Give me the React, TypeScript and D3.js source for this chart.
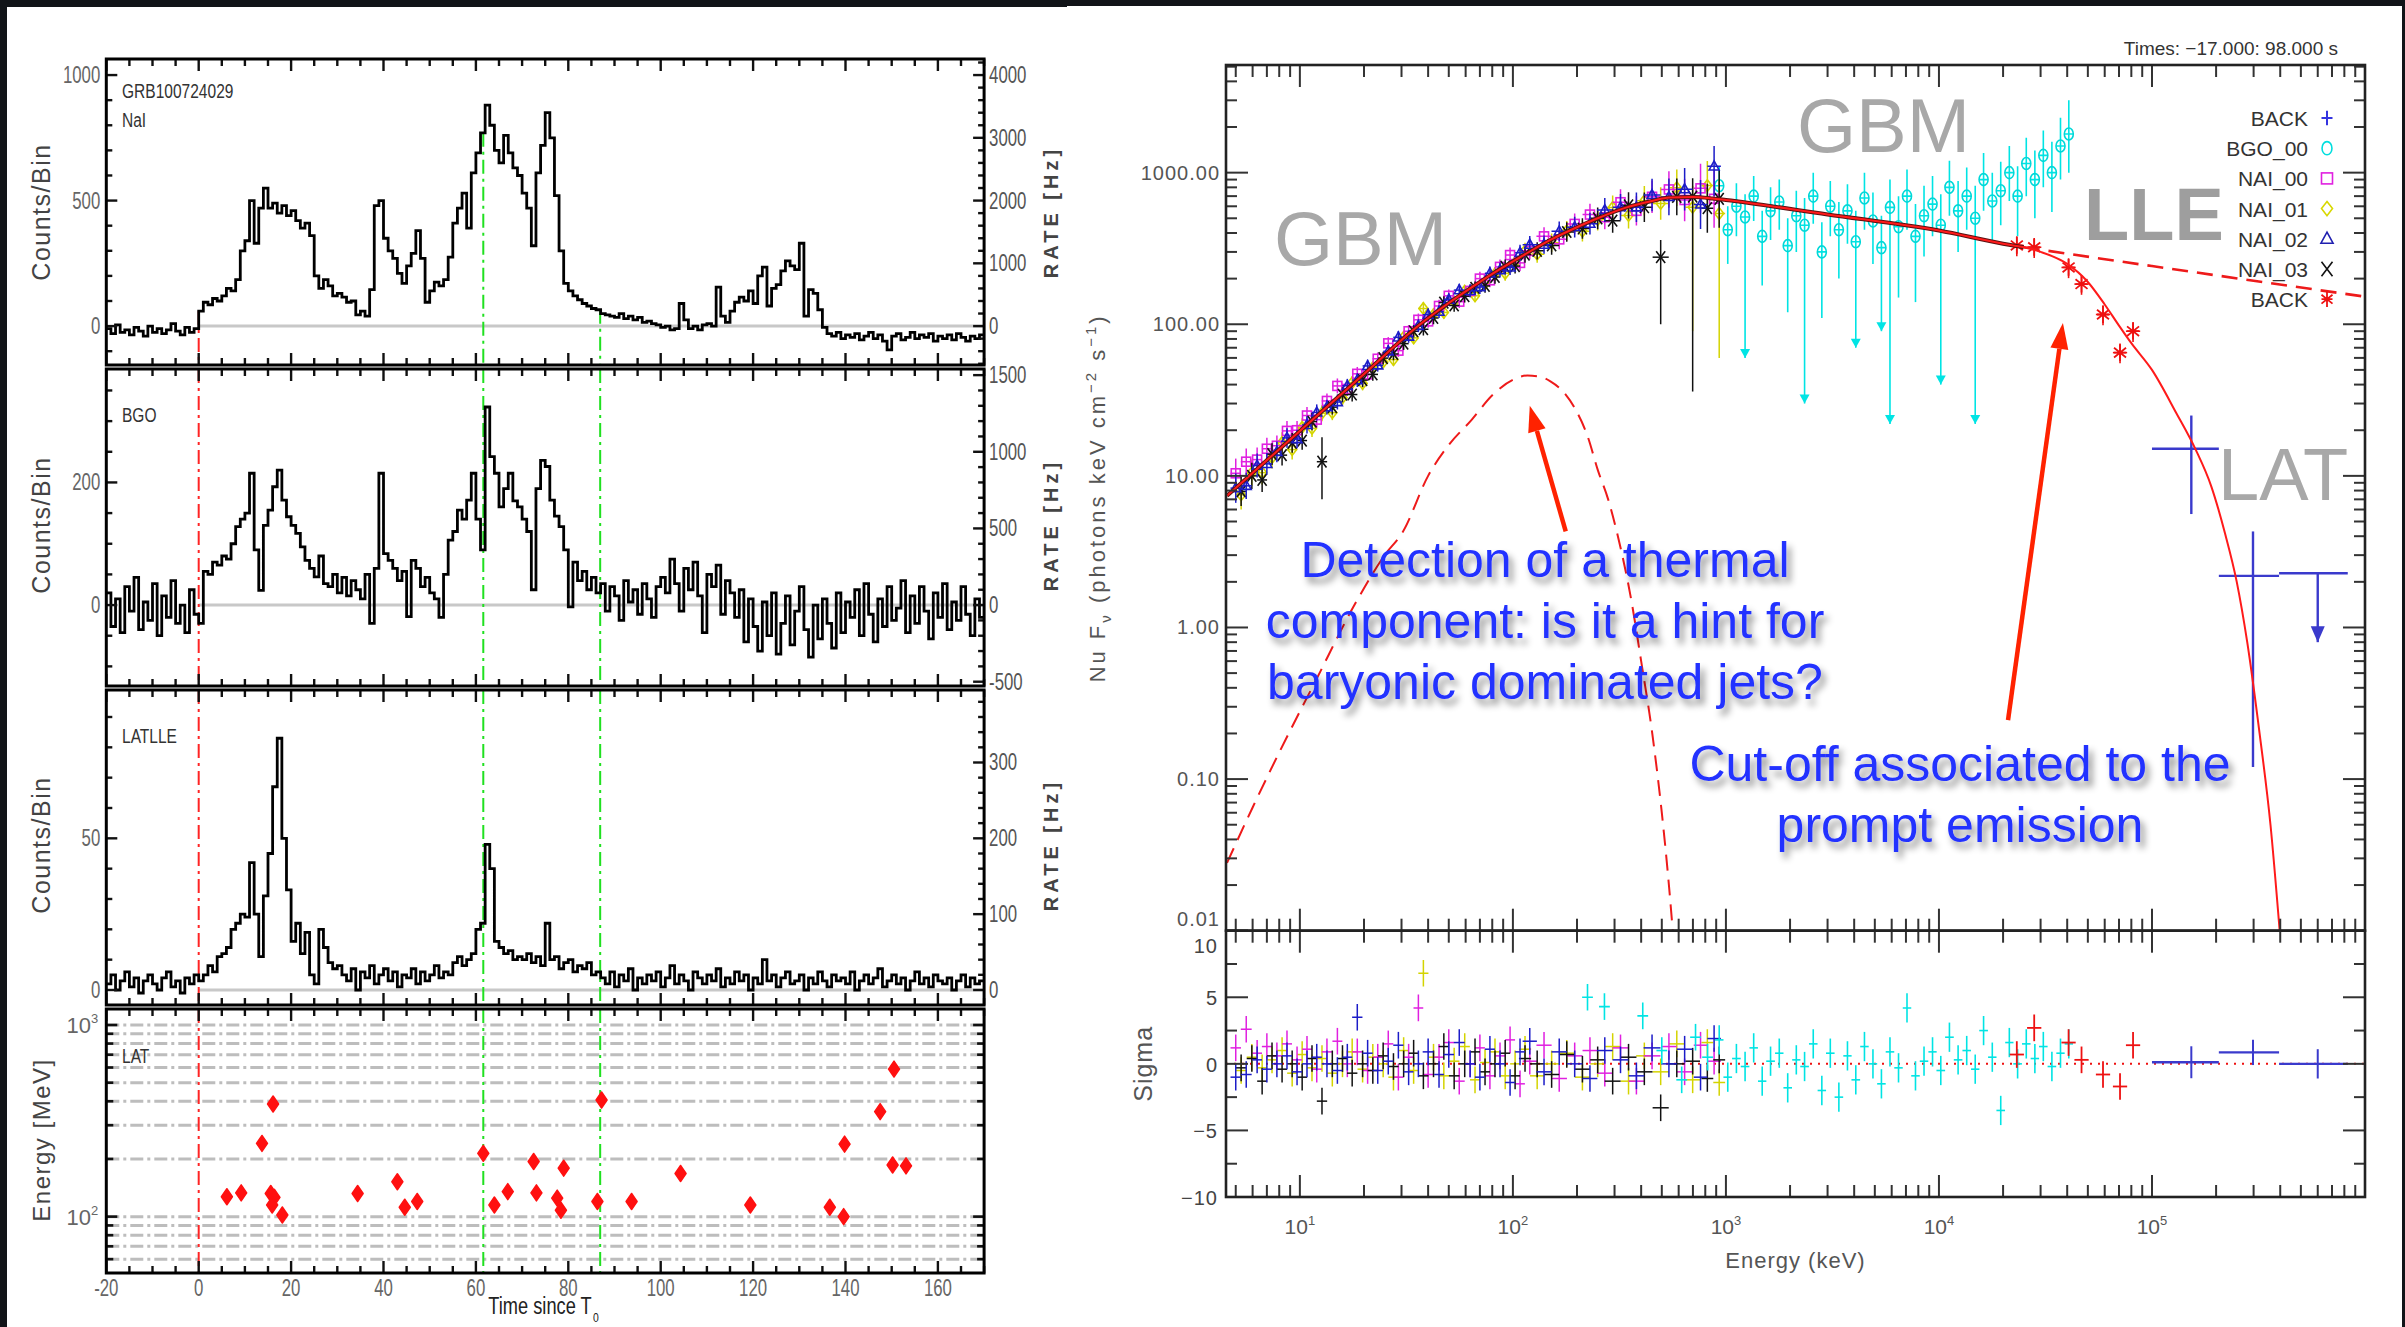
import React from 'react';
import * as d3 from 'd3';

const FONT = '"Liberation Sans", Arial, Helvetica, sans-serif';

// ================= LIGHT CURVES (1-s bins, first bin starts at T0-20 s) =================
const binStart = -20;
const naiCounts = [-10, -30, 5, -25, -15, -35, -5, -20, -40, 0, -25, -10, -30, -15, 10, -20, -35, -5, -25, -10,
  60, 95, 85, 110, 100, 120, 150, 140, 185, 300,
  340, 500, 330, 470, 550, 470, 490, 450, 480, 440,
  460, 420, 390, 410, 360, 200, 150, 185, 160, 120,
  130, 115, 95, 100, 45, 60, 40, 145, 480, 500,
  350, 300, 270, 210, 170, 240, 290, 380, 270, 95,
  140, 175, 160, 185, 275, 410, 470, 530, 390, 610,
  690, 770, 880, 800, 700, 650, 760, 690, 630, 600,
  530, 470, 320, 610, 720, 850, 750, 520, 300, 170,
  140, 120, 105, 90, 80, 70, 65, 50, 45, 40,
  35, 50, 30, 40, 25, 35, 15, 20, 10, 5,
  -5, 0, -15, -10, 90, 25, -10, 0, -15, 5,
  10, 0, 155, 40, 15, 60, 95, 115, 100, 140,
  90, 200, 235, 80, 150, 165, 220, 260, 240, 225,
  330, 40, 145, 130, 65, -5, -30, -40, -25, -50,
  -35, -45, -30, -55, -40, -25, -50, -35, -60, -95,
  -40, -30, -55, -45, -25, -50, -35, -45, -30, -60,
  -40, -50, -35, -55, -30, -45, -60, -40, -50, -35];

const bgoCounts = [20, -35, 10, -45, 30, -10, 45, -40, 5, -25, 35, -50, 15, -20, 40, -30, 0, -45, 25, -15,
  -30, 55, 50, 70, 65, 80, 75, 100, 128, 140, 150, 215, 90, 24, 130, 155, 193, 220, 171, 144, 130, 117, 95, 73, 60, 46, 80, 35,
  30, 50, 20, 45, 15, 40, 25, 10, 50,
  -30, 60, 215, 84, 73, 60, 40, 55, -19, 73, 60, 30, 45, 20, 10, -20, 50,
  106, 120, 155, 140, 171, 215, 140, 90, 323, 242, 215, 160, 190, 215, 170, 160, 140, 120, 25, 190, 236, 226, 171, 145, 128, 90, -3, 70, 40, 55, 25, 45, 20, 35,
  -10, 30, 15, -25, 40, 5, 25, -15, 35, 10, -20, 30,
  45, 20, 75, 35, -10, 60, 25, 70, 15, -45, 50, 30, 65, -15, 40, 20,
  -20, 25, -60, 10, -35, -75, 5, -50, 20, -80, -30, 15, -65, -10, 30, -40, -85, 0, -55, 10, -30, -70, 20, -45, 5,
  -20, 25, -50, 35, -15, -60, 10, -35, 30, -25, -5, 40, -45, 15, -30, 30, -10, -55, 20, -20, 35, -40, 5, -25, 30, -15, -50, 10, -20];

const lleCounts = [2, 5, 0, 3, 6, 1, 4, -1, 3, 5, 2, 0, 4, 6, 1, 3, -1, 4, 2, 5,
  3, 5, 8, 6, 11, 12, 14, 20, 22, 25, 24, 42, 25, 11, 31, 45, 67, 83, 50, 33, 16, 22, 12, 19, 5, 2, 20, 14, 9, 7,
  8, 5, 3, 7, 0, 6, 4, 8, 2, 5, 7, 3, 6, 1, 5, 4, 7, 2, 6, 3, 5, 8, 4, 6, 5,
  9, 11, 8, 10, 12, 20,
  22, 48, 40, 16, 14, 12, 13, 10, 11,
  10, 12, 9, 11, 8, 22, 10, 11, 7, 9, 10, 6, 8, 7, 9, 5, 6,
  4, 2, 6, 1, 5, 3, 7, 0, 4, 2, 5, 3, 6, 1, 4, 8, 2, 5, 3, 0, 6, 4, 2, 5, 3, 7, 1, 4, 2, 6,
  3, 5, 0, 4, 2, 10, 3, 5, 1, 4, 6, 2, 3, 5, 0, 4, 2, 6, 3, 1, 5, 3, 4, 2, 6, 0, 3, 5, 2, 4,
  7, 1, 3, 5, 2, 4, 0, 3, 6, 2, 4, 1, 5, 3, 2, 4, 0, 3, 5, 1, 4, 2, 3];

// LAT photons: time since T0 (s) and energy (MeV)
const latTimes = [6.1, 9.2, 13.7, 16.1, 15.6, 16.4, 15.9, 18.1, 34.4, 43.0, 44.6, 47.3, 61.6, 64.0, 66.9, 72.5, 73.1, 77.6, 78.4, 79.0, 86.3, 87.2, 93.7, 104.3, 119.4, 136.6, 139.8, 139.6, 147.5, 150.5, 150.2, 153.1];
const latEnergies = [127, 133, 241, 387, 132, 126, 115, 102, 132, 152, 112, 120, 214, 115, 135, 194, 133, 125, 108, 179, 120, 406, 120, 168, 115, 112, 239, 100, 353, 589, 186, 184];

const triggerTime = 0;
const intervalTimes = [61.6, 86.9];
const timeTickLabels = [-20, 0, 20, 40, 60, 80, 100, 120, 140, 160];
const latGridEnergies = [60, 70, 80, 90, 100, 200, 300, 400, 500, 600, 700, 800, 900, 1000];

// ================= SPECTRUM =================
const naiEnergiesA = [5, 5.6, 6.3, 7, 7.8, 8.7, 9.7, 10.8, 12, 13.4, 15, 16.7, 18.6, 20.8, 23.2, 26, 29, 32.4, 36, 40, 45, 50, 56, 63, 70, 78, 87, 97, 108, 120, 140, 165, 195, 230, 270, 320, 380, 450, 540, 640, 760, 880];
const naiEnergiesB = [5.3, 5.95, 6.65, 7.4, 8.25, 9.2, 10.25, 11.4, 12.7, 14.2, 15.85, 17.6, 19.7, 22, 24.6, 27.5, 30.7, 34.2, 38, 42.4, 47.4, 53, 59.4, 66.4, 74, 82.4, 92, 102.4, 114, 130, 152, 179, 212, 250, 294, 349, 414, 494, 588, 698, 818, 930];
const nai00Flux = [10.4, 12.4, 12.8, 15.1, 15.8, 19.8, 20, 25, 23.5, 31.2, 39.2, 37.4, 47.1, 46.7, 59.2, 74.8, 67, 89.9, 107, 104.5, 132, 154, 141, 166, 200, 195, 239, 286, 254, 305, 380, 363, 459, 529, 508, 638, 560, 693, 775, 660, 788, 672];
const nai01Flux = [7.5, 10.5, 10.5, 13.2, 16.6, 14.9, 20.9, 20.6, 25.9, 26.1, 32.7, 41.1, 40.7, 51.7, 56.4, 58.5, 82, 81.3, 127, 115.5, 119.7, 140, 165, 154, 185, 215, 217, 255, 305, 290, 345, 413, 411, 490, 589, 522, 653, 627, 796, 591, 822, 538];
const nai02Flux = [8.3, 8.6, 11.7, 12.0, 14.4, 17.8, 17.5, 21.7, 26.2, 28.4, 30.7, 39.3, 42.8, 53.1, 53.6, 66.3, 82, 83, 97.6, 115.5, 121, 145.6, 168, 166, 176, 217, 228, 237, 296, 335, 335, 410, 437, 461, 567, 592, 591, 713, 692, 778, 617, 1100];
const nai03Flux = [7.9, 10, 9.4, 13.9, 13.7, 16.5, 17.1, 22.8, 12.4, 28.4, 34.3, 34.4, 42.8, 46.7, 59.8, 63.7, 74.5, 89.9, 92.7, 110, 139, 133, 153, 174, 179, 205, 239, 242, 288, 305, 331, 406, 428, 500, 482, 609, 591, 277, 692, 695, 583, 672];
const naiRelErr = [0.25, 0.22, 0.2, 0.18, 0.17, 0.16, 0.15, 0.14, 0.13, 0.12, 0.12, 0.11, 0.11, 0.1, 0.1, 0.1, 0.1, 0.1, 0.1, 0.1, 0.1, 0.1, 0.1, 0.1, 0.11, 0.11, 0.12, 0.12, 0.13, 0.14, 0.15, 0.16, 0.17, 0.18, 0.2, 0.22, 0.25, 0.28, 0.32, 0.38, 0.45, 0.55];
// long error bars: [detector index, channel index, low end, high end]
const naiLongBars = [[3, 37, 100, 360], [3, 39, 36, 920], [1, 39, 90, 820], [1, 41, 60, 900], [3, 8, 7, 18], [2, 41, 700, 1500]];
const nai00Resid = [1.2, 2.6, 0.8, 1.3, 0.6, 1.5, 0.3, 1.1, -0.4, 0.9, 1.7, 0.0, 0.9, -0.5, 0.5, 1.5, -1.0, 0.5, 4.2, -0.8, 0.5, 1.6, -1.3, 0.0, 1.2, -0.9, 0.6, 1.8, -1.5, 0.2, 1.4, -1.1, 0.6, 1.0, -0.7, 1.2, -1.3, 0.6, 1.3, -0.6, 1.4, 0.2];
const nai01Resid = [-0.5, 0.5, -0.3, 0.3, 1.0, -0.7, 0.7, -0.3, 0.4, -0.7, 0.0, 0.9, -0.4, 0.5, 0.0, -1.0, 1.0, -0.5, 6.8, 0.5, -0.9, 0.2, 1.3, -1.2, 0.1, 0.9, -0.9, 0.0, 1.1, -0.9, 0.0, 0.8, -1.0, 0.0, 1.3, -1.3, 0.6, -0.6, 1.5, -1.2, 1.6, -1.4];
const nai02Resid = [-1.0, -0.8, 0.3, -0.4, 0.0, 0.6, -0.6, 0.0, 0.5, 0.0, -0.5, 0.5, 3.5, 0.8, -0.5, 0.2, 1.4, -0.6, 0.0, 0.9, -0.8, 0.7, 1.6, 0.0, -1.0, 1.1, 0.0, -1.4, 0.9, 1.7, -0.6, 0.9, 0.0, -1.1, 1.0, 0.3, -0.9, 1.2, 0.0, 1.1, -1.0, 1.9];
const nai03Resid = [-0.3, 0.4, -1.3, 0.6, -0.4, 0.0, -1.0, 0.4, -2.8, 0.0, 0.4, -0.7, 0.0, -0.5, 0.6, -0.2, 0.0, 0.8, -0.9, 0.0, 1.3, -0.9, 0.0, 0.9, -0.6, 0.0, 0.8, -0.9, 0.4, 0.0, -0.8, 0.7, -0.4, 0.3, -1.3, 0.5, -0.6, -3.3, 0.0, 0.2, -1.1, 0.3];

const bgoEnergies = [930, 1020, 1120, 1230, 1350, 1480, 1620, 1780, 1950, 2140, 2340, 2570, 2820, 3090, 3390, 3720, 4070, 4470, 4900, 5370, 5890, 6460, 7080, 7760, 8510, 9330, 10200, 11200, 12300, 13500, 14800, 16200, 17800, 19500, 21400, 23400, 25700, 28200, 30900, 33900, 37200, 40700];
const bgoFlux = [820, 420, 600, 510, 700, 380, 560, 640, 330, 520, 450, 700, 300, 600, 420, 560, 350, 680, 480, 320, 590, 440, 700, 380, 520, 620, 450, 800, 560, 700, 500, 900, 650, 760, 1000, 700, 1150, 900, 1300, 1000, 1500, 1800];
const bgoHigh = [1100, 600, 850, 720, 950, 560, 800, 900, 500, 760, 680, 1000, 470, 880, 640, 840, 560, 1000, 740, 520, 900, 700, 1050, 620, 820, 950, 720, 1200, 880, 1080, 820, 1350, 1000, 1180, 1500, 1100, 1700, 1400, 1900, 1600, 2300, 3000];
const bgoLow = [560, 250, 380, 60, 480, 180, 360, 420, 120, 300, 30, 460, 110, 380, 200, 340, 70, 420, 250, 90, 22, 150, 420, 140, 280, 380, 40, 520, 300, 420, 22, 560, 350, 450, 650, 380, 700, 500, 800, 550, 900, 1000];
const bgoResid = [1.8, -1.0, 0.4, -0.2, 1.2, -1.3, 0.2, 0.8, -1.8, 0.3, -0.2, 1.5, -2.0, 0.8, -2.5, 0.6, -1.2, 1.3, 0.0, -1.5, 0.9, -0.3, 4.2, -0.9, 0.2, 0.9, -0.5, 2.0, 0.3, 1.0, -0.4, 2.5, 0.5, -3.5, 1.6, 0.0, 1.5, 0.4, 1.3, -0.2, 0.8, 1.5];
const bgoLowEnergies = [224, 269, 407, 500, 620, 720, 820];
const bgoLowResid = [5.0, 4.3, 3.6, 1.0, -1.2, 2.0, 0.5];

const lleEnergies = [23200, 28000, 40600, 46700, 58900, 70800, 81500];
const lleFlux = [331, 322, 237, 184, 116, 65, 90];
const lleResid = [0.7, 2.7, 1.6, 0.3, -0.8, -1.7, 1.4];

const latEmin = [100000, 206000, 395000];
const latEmax = [206000, 395000, 830000];
const latEcen = [153000, 298000, 600000];
const latFlux = [15.1, 2.19, 2.28];
const latFluxLow = [5.6, 0.12, 0.8];
const latFluxHigh = [25, 4.3, 2.28];
const latIsUpperLimit = [false, false, true];
const latResid = [0.12, 0.86, 0.0];
const latResidErr = [1.2, 0.95, 1.1];

// fitted model (solid), Band continuation without cutoff (dashed), blackbody (dashed)
const modelE = [4.55, 10, 20, 36.7, 50, 64, 80, 112, 150, 195, 250, 342, 450, 542, 700, 863, 1000, 3000, 10000, 20000, 25000, 30000, 40000, 50000, 60000, 70000, 80000, 100000, 130000, 160000, 190000, 220000, 250000, 280000, 320000, 360000, 400000];
const modelF = [7.4, 19.8, 47, 100, 138, 175, 215, 285, 360, 430, 500, 590, 650, 685, 690, 676, 660, 530, 415, 340, 322, 300, 250, 190, 135, 98, 75, 50, 26, 15, 8.5, 4.2, 2.0, 0.8, 0.2, 0.05, 0.009];
const bandE = [25000, 100000, 1000000];
const bandF = [322, 242, 152];
const bbE = [4.55, 6, 8, 12, 18, 25, 30.5, 40, 50, 64, 80, 100, 117, 135, 150, 175, 195, 225, 250, 280, 311, 360, 400, 451, 500, 540, 570];
const bbF = [0.028, 0.065, 0.15, 0.46, 1.4, 3.0, 4.3, 10, 16, 23.4, 34, 43, 45.9, 45, 42, 35, 28, 18, 11, 7, 4.0, 1.5, 0.6, 0.2, 0.06, 0.02, 0.008];

const legendNames = ['BACK', 'BGO_00', 'NAI_00', 'NAI_01', 'NAI_02', 'NAI_03', 'BACK'];
const legendColors = ['#3434e0', '#00dede', '#e020e0', '#d8d800', '#2020b0', '#111111', '#ee1111'];
const legendSymbols = ['plus', 'circle', 'square', 'diamond', 'triangle', 'x', 'star'];

// ================= helpers =================
function CText(p: any) {
  const { x, y, sx = 1, anchor = 'middle', size = 20, fill = '#444', weight = 'normal', rotate = 0, ls = 0, children } = p;
  return (
    <text transform={`translate(${x},${y}) rotate(${rotate}) scale(${sx},1)`} textAnchor={anchor} fontSize={size}
      fill={fill} fontWeight={weight} fontFamily={FONT} letterSpacing={ls}>{children}</text>
  );
}

function multiples(a: number, b: number, s: number) {
  const out: number[] = [];
  for (let k = Math.ceil(a / s - 1e-9); k * s <= b + 1e-9; k++) out.push(+(k * s).toFixed(6));
  return out;
}

function marker(kind: string, x: number, y: number, color: string, s = 5, key?: any) {
  const sw = 1.6;
  switch (kind) {
    case 'square':
      return <rect key={key} x={x - s} y={y - s} width={2 * s} height={2 * s} fill="none" stroke={color} strokeWidth={sw} />;
    case 'diamond':
      return <path key={key} d={`M${x},${y - s * 1.3}L${x + s},${y}L${x},${y + s * 1.3}L${x - s},${y}Z`} fill="none" stroke={color} strokeWidth={sw} />;
    case 'triangle':
      return <path key={key} d={`M${x},${y - s * 1.2}L${x + s * 1.1},${y + s * 0.8}L${x - s * 1.1},${y + s * 0.8}Z`} fill="none" stroke={color} strokeWidth={sw} />;
    case 'x':
      return <path key={key} d={`M${x - s},${y - s * 1.3}L${x + s},${y + s * 1.3}M${x + s},${y - s * 1.3}L${x - s},${y + s * 1.3}`} stroke={color} strokeWidth={sw} />;
    case 'circle':
      return <ellipse key={key} cx={x} cy={y} rx={s * 0.9} ry={s * 1.2} fill="none" stroke={color} strokeWidth={sw} />;
    case 'plus':
      return <path key={key} d={`M${x - s},${y}L${x + s},${y}M${x},${y - s * 1.3}L${x},${y + s * 1.3}`} stroke={color} strokeWidth={2} />;
    case 'star':
      return <path key={key} d={`M${x},${y - s * 1.4}L${x},${y + s * 1.4}M${x - s},${y - s * 0.8}L${x + s},${y + s * 0.8}M${x + s},${y - s * 0.8}L${x - s},${y + s * 0.8}M${x - s},${y}L${x + s},${y}`} stroke={color} strokeWidth={1.8} />;
  }
  return null;
}

// ================= LEFT: light curves =================
const LX0 = 106.3, LX1 = 984.1;
const xT = d3.scaleLinear().domain([-20, 170]).range([LX0, LX1]);
const RED = '#ff2424', GREEN = '#20e020';
const dashDot = '14,5,3,5';

const lcPanels = [
  { key: 'nai', y0: 59, y1: 365, dom: [-155, 1064], counts: naiCounts, lMajor: 500, lMinor: 100, rMajor: 1000, rMinor: 200, lLabels: [0, 500, 1000], rLabels: [0, 1000, 2000, 3000, 4000], titles: ['GRB100724029', 'NaI'], titleY: [98, 127], center: 212, fromCurve: true },
  { key: 'bgo', y0: 369, y1: 686, dom: [-132, 385], counts: bgoCounts, lMajor: 200, lMinor: 50, rMajor: 500, rMinor: 100, lLabels: [0, 200], rLabels: [-500, 0, 500, 1000, 1500], titles: ['BGO'], titleY: [422], center: 525, fromCurve: false },
  { key: 'lle', y0: 690, y1: 1005, dom: [-4.95, 98.9], counts: lleCounts, lMajor: 50, lMinor: 10, rMajor: 100, rMinor: 20, lLabels: [0, 50], rLabels: [0, 100, 200, 300], titles: ['LATLLE'], titleY: [743], center: 845, fromCurve: false },
];

function timeTicks(y0: number, y1: number) {
  const ts = multiples(-20, 170, 5);
  return ts.map((t, i) => {
    const major = Math.abs(t % 20) < 1e-6;
    const len = major ? 12 : 7;
    return (
      <g key={i}>
        <line x1={xT(t)} x2={xT(t)} y1={y0} y2={y0 + len} stroke="#111" strokeWidth={2.4} />
        <line x1={xT(t)} x2={xT(t)} y1={y1} y2={y1 - len} stroke="#111" strokeWidth={2.4} />
      </g>
    );
  });
}

function lcPanel(cfg: any) {
  const y = d3.scaleLinear().domain(cfg.dom).range([cfg.y1, cfg.y0]);
  const yr = d3.scaleLinear().domain([cfg.dom[0] * 4, cfg.dom[1] * 4]).range([cfg.y1, cfg.y0]);
  const pts: [number, number][] = cfg.counts.map((c: number, i: number) => [binStart + i, c]);
  pts.push([binStart + cfg.counts.length, cfg.counts[cfg.counts.length - 1]]);
  const line = d3.line<[number, number]>().x(d => xT(d[0])).y(d => y(d[1])).curve(d3.curveStepAfter);
  const lt = multiples(cfg.dom[0], cfg.dom[1], cfg.lMinor);
  const rt = multiples(cfg.dom[0] * 4, cfg.dom[1] * 4, cfg.rMinor);
  const valAt = (t: number) => cfg.counts[Math.floor(t - binStart)];
  const vl = (t: number, color: string, k: string) => (
    <line key={k} x1={xT(t)} x2={xT(t)} y1={cfg.fromCurve ? y(valAt(t)) : cfg.y0} y2={cfg.y1}
      stroke={color} strokeWidth={2} strokeDasharray={dashDot} />
  );
  return (
    <g key={cfg.key}>
      <clipPath id={`clip-${cfg.key}`}><rect x={LX0} y={cfg.y0} width={LX1 - LX0} height={cfg.y1 - cfg.y0} /></clipPath>
      <line x1={xT(0)} x2={LX1} y1={y(0)} y2={y(0)} stroke="#c8c8c8" strokeWidth={3} />
      {vl(triggerTime, RED, 'r')}
      {intervalTimes.map((t, i) => vl(t, GREEN, 'g' + i))}
      <path d={line(pts) || ''} fill="none" stroke="#000" strokeWidth={2.8} strokeLinejoin="miter" clipPath={`url(#clip-${cfg.key})`} />
      {timeTicks(cfg.y0, cfg.y1)}
      {lt.map((v, i) => {
        const major = Math.abs(v % cfg.lMajor) < 1e-6;
        return <line key={'l' + i} x1={LX0} x2={LX0 + (major ? 11 : 6)} y1={y(v)} y2={y(v)} stroke="#111" strokeWidth={2.4} />;
      })}
      {rt.map((v, i) => {
        const major = Math.abs(v % cfg.rMajor) < 1e-6;
        return <line key={'r' + i} x1={LX1} x2={LX1 - (major ? 11 : 6)} y1={yr(v)} y2={yr(v)} stroke="#111" strokeWidth={2.4} />;
      })}
      <rect x={LX0} y={cfg.y0} width={LX1 - LX0} height={cfg.y1 - cfg.y0} fill="none" stroke="#000" strokeWidth={3} />
      {cfg.lLabels.map((v: number, i: number) => (
        <CText key={'ll' + i} x={LX0 - 6} y={y(v) + 8} sx={0.7} size={24} anchor="end" fill="#666">{v}</CText>
      ))}
      {cfg.rLabels.map((v: number, i: number) => (
        <CText key={'rl' + i} x={LX1 + 5} y={yr(v) + 8} sx={0.7} size={24} anchor="start" fill="#555">{v}</CText>
      ))}
      {cfg.titles.map((s: string, i: number) => (
        <CText key={'t' + i} x={122} y={cfg.titleY[i]} sx={0.74} size={21} anchor="start" fill="#333">{s}</CText>
      ))}
      <CText x={50} y={cfg.center} rotate={-90} size={25} ls={1.5} fill="#444">Counts/Bin</CText>
      <CText x={1058} y={cfg.center} rotate={-90} size={20} weight="bold" ls={4} fill="#444">RATE [Hz]</CText>
    </g>
  );
}

function latPanel() {
  const y0 = 1009, y1 = 1273;
  const y = d3.scaleLog().domain([50.8, 1212]).range([y1, y0]);
  return (
    <g>
      <clipPath id="clip-lat"><rect x={LX0} y={y0} width={LX1 - LX0} height={y1 - y0} /></clipPath>
      {latGridEnergies.map((e, i) => (
        <line key={'g' + i} x1={LX0} x2={LX1} y1={y(e)} y2={y(e)} stroke="#bdbdbd" strokeWidth={3} strokeDasharray="13,4,3,4" />
      ))}
      <line x1={xT(triggerTime)} x2={xT(triggerTime)} y1={y0} y2={y1} stroke={RED} strokeWidth={2} strokeDasharray={dashDot} />
      {intervalTimes.map((t, i) => (
        <line key={'v' + i} x1={xT(t)} x2={xT(t)} y1={y0} y2={y1} stroke={GREEN} strokeWidth={2} strokeDasharray={dashDot} />
      ))}
      <g clipPath="url(#clip-lat)">
        {latTimes.map((t, i) => {
          const cx = xT(t), cy = y(latEnergies[i]);
          return <path key={'p' + i} d={`M${cx},${cy - 8}L${cx + 5.5},${cy}L${cx},${cy + 8}L${cx - 5.5},${cy}Z`} fill="#ff1010" stroke="#ff1010" strokeWidth={1.5} strokeLinejoin="round" />;
        })}
      </g>
      {timeTicks(y0, y1)}
      {latGridEnergies.map((e, i) => {
        const major = e === 100 || e === 1000;
        const len = major ? 11 : 7;
        return (
          <g key={'t' + i}>
            <line x1={LX0} x2={LX0 + len} y1={y(e)} y2={y(e)} stroke="#111" strokeWidth={2.6} />
            <line x1={LX1} x2={LX1 - len} y1={y(e)} y2={y(e)} stroke="#111" strokeWidth={2.6} />
          </g>
        );
      })}
      <rect x={LX0} y={y0} width={LX1 - LX0} height={y1 - y0} fill="none" stroke="#000" strokeWidth={3} />
      {[1000, 100].map((e, i) => (
        <text key={'el' + i} x={LX0 - 8} y={y(e) + 8} textAnchor="end" fontSize={22} fill="#666" fontFamily={FONT}>
          10<tspan dy={-10} fontSize={13}>{e === 1000 ? 3 : 2}</tspan>
        </text>
      ))}
      <CText x={122} y={1063} sx={0.74} size={21} anchor="start" fill="#333">LAT</CText>
      <CText x={50} y={1140} rotate={-90} size={24} ls={1.5} fill="#444">Energy [MeV]</CText>
      {timeTickLabels.map((t, i) => (
        <CText key={'x' + i} x={xT(t)} y={1296} sx={0.7} size={24} fill="#666">{t}</CText>
      ))}
      <CText x={540} y={1314} sx={0.76} size={24} fill="#222">Time since T</CText>
      <CText x={596} y={1322} sx={0.8} size={13} fill="#222">0</CText>
    </g>
  );
}

// ================= RIGHT: spectrum =================
const SX0 = 1226, SX1 = 2365, SY0 = 65, SY1 = 930.7, RY1 = 1197;
const xS = d3.scaleLog().domain([4.5, 1e6]).range([SX0, SX1]);
const yS = d3.scaleLog().domain([0.01, 5129]).range([SY1, SY0]);
const yR = d3.scaleLinear().domain([-10, 10]).range([RY1, SY1]);

function binEdges(E: number[]) {
  return E.map((e, i) => {
    const r = i < E.length - 1 ? Math.sqrt(E[i + 1] / e) : Math.sqrt(e / E[i - 1]);
    return [e / r, e * r];
  });
}

const naiSets = [
  { flux: nai01Flux, resid: nai01Resid, E: naiEnergiesB, color: '#d4d400', sym: 'diamond', det: 1 },
  { flux: nai00Flux, resid: nai00Resid, E: naiEnergiesA, color: '#e020e0', sym: 'square', det: 0 },
  { flux: nai03Flux, resid: nai03Resid, E: naiEnergiesB, color: '#111111', sym: 'x', det: 3 },
  { flux: nai02Flux, resid: nai02Resid, E: naiEnergiesA, color: '#1c1cc8', sym: 'triangle', det: 2 },
];

function spectrum() {
  const lineGen = d3.line<[number, number]>().x(d => xS(d[0])).y(d => yS(d[1])).curve(d3.curveMonotoneX);
  const modelPts: [number, number][] = modelE.map((e, i) => [e, modelF[i]]);
  const modelLow = modelPts.filter(d => d[0] <= 25000);
  const bandPts: [number, number][] = bandE.map((e, i) => [e, bandF[i]]);
  const bbPts: [number, number][] = bbE.map((e, i) => [e, bbF[i]]);

  const xMajor = [1e1, 1e2, 1e3, 1e4, 1e5, 1e6];
  const xMinor: number[] = [];
  [1, 10, 100, 1000, 1e4, 1e5].forEach(d => { for (let k = 2; k <= 9; k++) { const v = k * d; if (v >= 4.5 && v <= 1e6) xMinor.push(v); } });
  const yMajor = [0.01, 0.1, 1, 10, 100, 1000];
  const yMinor: number[] = [];
  [0.01, 0.1, 1, 10, 100, 1000].forEach(d => { for (let k = 2; k <= 9; k++) { const v = k * d; if (v <= 5129) yMinor.push(v); } });
  const yLabel = ['0.01', '0.10', '1.00', '10.00', '100.00', '1000.00'];
  const tk = '#333';

  const naiMarks = naiSets.map((s, si) => {
    const edges = binEdges(s.E);
    return (
      <g key={'nai' + si}>
        {s.flux.map((v, i) => {
          const rel = naiRelErr[i];
          const lb = naiLongBars.find(b => b[0] === s.det && b[1] === i);
          const lo = lb ? lb[2] : v / (1 + rel);
          const hi = lb ? lb[3] : v * (1 + rel);
          const cx = xS(s.E[i]), cy = yS(v);
          return (
            <g key={i}>
              <line x1={cx} x2={cx} y1={yS(lo)} y2={yS(hi)} stroke={s.color} strokeWidth={1.5} />
              <line x1={xS(edges[i][0])} x2={xS(edges[i][1])} y1={cy} y2={cy} stroke={s.color} strokeWidth={1.5} />
              {marker(s.sym, cx, cy, s.color, 4.5)}
            </g>
          );
        })}
      </g>
    );
  });

  const bgoEdges = binEdges(bgoEnergies);
  const bgoMarks = bgoFlux.map((v, i) => {
    const cx = xS(bgoEnergies[i]), cy = yS(v);
    const lo = bgoLow[i];
    return (
      <g key={'b' + i}>
        <line x1={cx} x2={cx} y1={yS(lo)} y2={yS(bgoHigh[i])} stroke="#00e4e4" strokeWidth={1.6} />
        <line x1={xS(bgoEdges[i][0])} x2={xS(bgoEdges[i][1])} y1={cy} y2={cy} stroke="#00e4e4" strokeWidth={1.6} />
        {lo < 100 ? <path d={`M${cx - 5},${yS(lo) - 9}L${cx + 5},${yS(lo) - 9}L${cx},${yS(lo)}Z`} fill="#00e4e4" /> : null}
        {marker('circle', cx, cy, '#00d8d8', 5)}
      </g>
    );
  });

  const lleEdges = lleEnergies.map(e => [e / 1.08, e * 1.08]);
  const lleMarks = lleFlux.map((v, i) => {
    const cx = xS(lleEnergies[i]), cy = yS(v);
    return (
      <g key={'l' + i}>
        <line x1={cx} x2={cx} y1={yS(v * 0.85)} y2={yS(v * 1.15)} stroke="#ee1111" strokeWidth={1.6} />
        <line x1={xS(lleEdges[i][0])} x2={xS(lleEdges[i][1])} y1={cy} y2={cy} stroke="#ee1111" strokeWidth={1.6} />
        {marker('star', cx, cy, '#ee1111', 6)}
      </g>
    );
  });

  const latMarks = latFlux.map((v, i) => {
    const cx = xS(latEcen[i]), cy = yS(v);
    return (
      <g key={'lat' + i}>
        <line x1={xS(latEmin[i])} x2={xS(latEmax[i])} y1={cy} y2={cy} stroke="#3a3acc" strokeWidth={2.4} />
        {latIsUpperLimit[i] ? (
          <g>
            <line x1={cx} x2={cx} y1={cy} y2={yS(latFluxLow[i])} stroke="#3a3acc" strokeWidth={2.4} />
            <path d={`M${cx - 7},${yS(latFluxLow[i]) - 16}L${cx + 7},${yS(latFluxLow[i]) - 16}L${cx},${yS(latFluxLow[i])}Z`} fill="#3a3acc" />
          </g>
        ) : (
          <line x1={cx} x2={cx} y1={yS(latFluxLow[i])} y2={yS(latFluxHigh[i])} stroke="#3a3acc" strokeWidth={2.4} />
        )}
      </g>
    );
  });

  // residuals
  const residMarks: any[] = [];
  naiSets.forEach((s, si) => {
    const edges = binEdges(s.E);
    s.resid.forEach((r, i) => {
      const cx = xS(s.E[i]);
      residMarks.push(
        <g key={`rn${si}-${i}`}>
          <line x1={cx} x2={cx} y1={yR(r - 1)} y2={yR(r + 1)} stroke={s.color} strokeWidth={1.5} />
          <line x1={xS(edges[i][0])} x2={xS(edges[i][1])} y1={yR(r)} y2={yR(r)} stroke={s.color} strokeWidth={1.5} />
        </g>
      );
    });
  });
  bgoLowEnergies.forEach((e, i) => {
    const cx = xS(e), r = bgoLowResid[i];
    residMarks.push(
      <g key={'rbl' + i}>
        <line x1={cx} x2={cx} y1={yR(r - 1)} y2={yR(r + 1)} stroke="#00e4e4" strokeWidth={1.6} />
        <line x1={xS(e / 1.06)} x2={xS(e * 1.06)} y1={yR(r)} y2={yR(r)} stroke="#00e4e4" strokeWidth={1.6} />
      </g>
    );
  });
  bgoResid.forEach((r, i) => {
    const cx = xS(bgoEnergies[i]);
    residMarks.push(
      <g key={'rb' + i}>
        <line x1={cx} x2={cx} y1={yR(r - 1.1)} y2={yR(r + 1.1)} stroke="#00e4e4" strokeWidth={1.6} />
        <line x1={xS(bgoEdges[i][0])} x2={xS(bgoEdges[i][1])} y1={yR(r)} y2={yR(r)} stroke="#00e4e4" strokeWidth={1.6} />
      </g>
    );
  });
  lleResid.forEach((r, i) => {
    const cx = xS(lleEnergies[i]);
    residMarks.push(
      <g key={'rl' + i}>
        <line x1={cx} x2={cx} y1={yR(r - 1)} y2={yR(r + 1)} stroke="#ee1111" strokeWidth={1.8} />
        <line x1={xS(lleEdges[i][0])} x2={xS(lleEdges[i][1])} y1={yR(r)} y2={yR(r)} stroke="#ee1111" strokeWidth={1.8} />
      </g>
    );
  });
  latResid.forEach((r, i) => {
    const cx = xS(latEcen[i]);
    residMarks.push(
      <g key={'rlat' + i}>
        <line x1={cx} x2={cx} y1={yR(r - latResidErr[i])} y2={yR(r + latResidErr[i])} stroke="#3a3acc" strokeWidth={2} />
        <line x1={xS(latEmin[i])} x2={xS(latEmax[i])} y1={yR(r)} y2={yR(r)} stroke="#3a3acc" strokeWidth={2.4} />
      </g>
    );
  });

  const arrow = (e0: number, f0: number, e1: number, f1: number) => {
    const x0 = xS(e0), y0 = yS(f0), x1 = xS(e1), y1 = yS(f1);
    const a = Math.atan2(y1 - y0, x1 - x0);
    const L = 26, Wd = 9;
    const bx = x1 - L * Math.cos(a), by = y1 - L * Math.sin(a);
    const px = -Math.sin(a) * Wd, py = Math.cos(a) * Wd;
    return (
      <g>
        <line x1={x0} y1={y0} x2={bx} y2={by} stroke="#ff2200" strokeWidth={4.5} />
        <path d={`M${x1},${y1}L${bx + px},${by + py}L${bx - px},${by - py}Z`} fill="#ff2200" />
      </g>
    );
  };

  return (
    <g>
      <defs>
        <clipPath id="clip-spec"><rect x={SX0} y={SY0} width={SX1 - SX0} height={SY1 - SY0} /></clipPath>
        <clipPath id="clip-res"><rect x={SX0} y={SY1} width={SX1 - SX0} height={RY1 - SY1} /></clipPath>
        <filter id="shadow" x="-10%" y="-20%" width="130%" height="160%">
          <feDropShadow dx="4" dy="6" stdDeviation="3.5" floodColor="#000" floodOpacity="0.45" />
        </filter>
      </defs>
      {/* big gray labels */}
      <text x={1797} y={152} fontSize={76} fill="#a8a8a8" fontFamily={FONT}>GBM</text>
      <text x={1274} y={265} fontSize={76} fill="#a8a8a8" fontFamily={FONT}>GBM</text>
      <text x={2084} y={240} fontSize={74} fontWeight="bold" fill="#9e9e9e" fontFamily={FONT}>LLE</text>
      <g clipPath="url(#clip-spec)">
        <g>{bgoMarks}</g>
        <g>{naiMarks}</g>
        <g>{lleMarks}</g>
        <g>{latMarks}</g>
        <path d={lineGen(bbPts) || ''} fill="none" stroke="#ee1a1a" strokeWidth={2} strokeDasharray="16,9" />
        <path d={lineGen(bandPts) || ''} fill="none" stroke="#ee1a1a" strokeWidth={2.6} strokeDasharray="16,9" />
        <path d={lineGen(modelLow) || ''} fill="none" stroke="#5a1212" strokeWidth={4} />
        <path d={lineGen(modelPts) || ''} fill="none" stroke="#ff1a1a" strokeWidth={2} />
      </g>
      <text x={2218} y={500} fontSize={74} fill="#a8a8a8" fontFamily={FONT}>LAT</text>
      {/* residuals */}
      <g clipPath="url(#clip-res)">
        <line x1={SX0} x2={SX1} y1={yR(0)} y2={yR(0)} stroke="#ee1111" strokeWidth={2} strokeDasharray="2,6" />
        {residMarks}
      </g>
      {/* ticks */}
      {xMajor.concat(xMinor).map((v, i) => {
        const major = xMajor.includes(v);
        const L = major ? 22 : 12;
        const x = xS(v);
        return (
          <g key={'xt' + i}>
            <line x1={x} x2={x} y1={SY0} y2={SY0 + L} stroke={tk} strokeWidth={2} />
            <line x1={x} x2={x} y1={SY1} y2={SY1 - L} stroke={tk} strokeWidth={2} />
            <line x1={x} x2={x} y1={SY1} y2={SY1 + L} stroke={tk} strokeWidth={2} />
            <line x1={x} x2={x} y1={RY1} y2={RY1 - L} stroke={tk} strokeWidth={2} />
          </g>
        );
      })}
      {yMajor.concat(yMinor).map((v, i) => {
        const major = yMajor.includes(v);
        const L = major ? 22 : 11;
        const y = yS(v);
        return (
          <g key={'yt' + i}>
            <line x1={SX0} x2={SX0 + L} y1={y} y2={y} stroke={tk} strokeWidth={2} />
            <line x1={SX1} x2={SX1 - L} y1={y} y2={y} stroke={tk} strokeWidth={2} />
          </g>
        );
      })}
      {multiples(-10, 10, 2.5).map((v, i) => {
        const major = Math.abs(v % 5) < 1e-6;
        const L = major ? 22 : 11;
        return (
          <g key={'rt' + i}>
            <line x1={SX0} x2={SX0 + L} y1={yR(v)} y2={yR(v)} stroke={tk} strokeWidth={2} />
            <line x1={SX1} x2={SX1 - L} y1={yR(v)} y2={yR(v)} stroke={tk} strokeWidth={2} />
          </g>
        );
      })}
      <rect x={SX0} y={SY0} width={SX1 - SX0} height={SY1 - SY0} fill="none" stroke="#222" strokeWidth={2.6} />
      <rect x={SX0} y={SY1} width={SX1 - SX0} height={RY1 - SY1} fill="none" stroke="#222" strokeWidth={2.6} />
      {/* tick labels */}
      {yMajor.map((v, i) => (
        <text key={'yl' + i} x={SX0 - 6} y={yS(v) + (v === 0.01 ? -5 : 7)} textAnchor="end" fontSize={20} fill="#555" fontFamily={FONT} letterSpacing={1}>{yLabel[i]}</text>
      ))}
      {[10, 5, 0, -5, -10].map((v, i) => (
        <text key={'rl' + i} x={SX0 - 8} y={yR(v) + (v === 10 ? 22 : 8)} textAnchor="end" fontSize={20} fill="#444" fontFamily={FONT} letterSpacing={1}>{v < 0 ? '\u2212' + Math.abs(v) : v}</text>
      ))}
      {[1, 2, 3, 4, 5].map((p, i) => (
        <text key={'xl' + i} x={xS(Math.pow(10, p))} y={1234} textAnchor="middle" fontSize={21} fill="#555" fontFamily={FONT}>
          10<tspan dy={-9} fontSize={13}>{p}</tspan>
        </text>
      ))}
      <text x={(SX0 + SX1) / 2} y={1268} textAnchor="middle" fontSize={22} fill="#555" fontFamily={FONT} letterSpacing={1}>Energy (keV)</text>
      <text transform={`translate(1152,${yR(0)}) rotate(-90)`} textAnchor="middle" fontSize={25} fill="#555" fontFamily={FONT} letterSpacing={1}>Sigma</text>
      <text transform={`translate(1105,${(SY0 + SY1) / 2}) rotate(-90)`} textAnchor="middle" fontSize={22} fill="#555" fontFamily={FONT} letterSpacing={3}>
        Nu F<tspan dy={6} fontSize={15}>ν</tspan><tspan dy={-6}> (photons keV cm</tspan><tspan dy={-9} fontSize={15}>−2</tspan><tspan dy={9}> s</tspan><tspan dy={-9} fontSize={15}>−1</tspan><tspan dy={9}>)</tspan>
      </text>
      <text x={2338} y={55} textAnchor="end" fontSize={19} fill="#333" fontFamily={FONT}>Times: −17.000: 98.000 s</text>
      {/* legend */}
      {legendNames.map((n, i) => {
        const y = 118 + i * 30.2;
        return (
          <g key={'lg' + i}>
            <text x={2308} y={y + 8} textAnchor="end" fontSize={21} fill="#333" fontFamily={FONT}>{n}</text>
            {marker(legendSymbols[i], 2327, y, legendColors[i], 5.5)}
          </g>
        );
      })}
      {/* annotations */}
      {arrow(177, 4.3, 120, 29)}
      {arrow(21100, 0.245, 38200, 102)}
      <g filter="url(#shadow)" fontFamily={FONT} fontSize={50} fill="#2430ff" textAnchor="middle">
        <text x={1545} y={577}>Detection of a thermal</text>
        <text x={1545} y={638}>component: is it a hint for</text>
        <text x={1545} y={699}>baryonic dominated jets?</text>
        <text x={1960} y={781}>Cut-off associated to the</text>
        <text x={1960} y={842}>prompt emission</text>
      </g>
    </g>
  );
}

export default function App() {
  return (
    <svg width={2405} height={1327} style={{ position: 'absolute', left: 0, top: 0, display: 'block' }}
      xmlns="http://www.w3.org/2000/svg">
      <rect x={0} y={0} width={2405} height={1327} fill="#111418" />
      <rect x={7} y={7} width={1060} height={1320} fill="#ffffff" />
      <rect x={1067} y={6} width={1335} height={1321} fill="#ffffff" />
      {lcPanels.map(p => lcPanel(p))}
      {latPanel()}
      {spectrum()}
    </svg>
  );
}
